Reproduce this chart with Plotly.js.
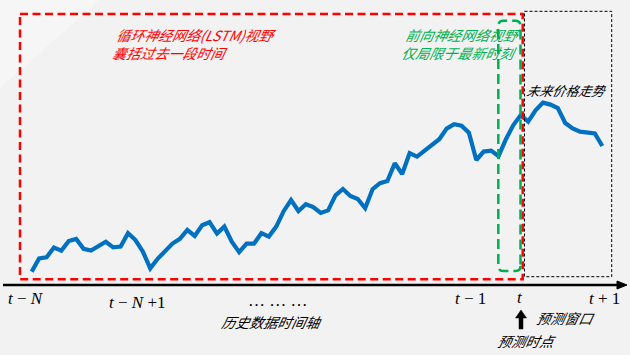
<!DOCTYPE html>
<html>
<head>
<meta charset="utf-8">
<script src="https://cdn.plot.ly/plotly-3.0.1.min.js"></script>
<style>html,body{margin:0;padding:0;background:#F2F2F2;}#chart{width:630px;height:355px;}</style>
</head>
<body>
<div id="chart"></div>
<script>
// Price series (arbitrary units), one value per time step
const prices = [5.7, 12.3, 12.8, 17.7, 16.2, 21.0, 22.0, 17.1, 16.2, 18.2,
  20.6, 17.8, 18.2, 24.9, 21.5, 15.7, 7.3, 12.1, 16.0, 19.7,
  22.1, 26.5, 23.5, 28.9, 30.4, 24.7, 28.2, 20.7, 15.4, 19.7,
  19.7, 24.9, 23.2, 28.2, 35.9, 41.5, 36.0, 39.4, 38.0, 35.0,
  36.3, 43.8, 47.0, 43.5, 42.0, 37.4, 46.9, 49.9, 51.0, 59.9,
  54.5, 64.9, 63.2, 66.0, 69.0, 71.9, 77.2, 79.4, 78.7, 75.2,
  61.5, 65.7, 66.2, 63.4, 71.9, 79.0, 84.0, 80.7, 86.3, 90.2,
  89.2, 87.5, 80.0, 77.3, 75.7, 75.4, 74.8, 68.5];

// Time-axis tick labels
const tickLabels = ['<i>t</i> − <i>N</i>', '<i>t</i> − <i>N</i> +1', '… … …', '<i>t</i> − 1', '<i>t</i>', '<i>t</i> + 1'];

// Text labels
const lstmText = ['循环神经网络(LSTM)视野', '囊括过去一段时间'];
const ffText = ['前向神经网络视野', '仅局限于最新时刻'];
const futureText = '未来价格走势';
const axisText = '历史数据时间轴';
const windowText = '预测窗口';
const pointText = '预测时点';

const W = 630, H = 355;
const px = x => x / W;
const py = y => 1 - y / H;

const trace = {
  y: prices,
  type: 'scatter',
  mode: 'lines',
  line: {color: '#0070C0', width: 4.2},
  hoverinfo: 'skip'
};

const cjk = '"Noto Sans CJK SC", "Noto Sans", sans-serif';
const serif = '"Liberation Serif", "DejaVu Serif", serif';

function ann(text, x, y, opts) {
  return Object.assign({
    text: '<i>' + text + '</i>', xref: 'paper', yref: 'paper', x: px(x), y: py(y),
    showarrow: false, xanchor: 'left', yanchor: 'middle', align: 'left',
    font: {family: cjk, size: 14, color: '#000', style: 'italic'}
  }, opts || {});
}

const tickPos = [[26, 298], [137, 302], [278, 300], [470, 298], [520, 297], [604, 298]];

const annotations = [
  ann(lstmText.join('</i><br><i>'), 113, 43.5, {font: {family: cjk, size: 14, color: '#FF0000', style: 'italic'}}),
  ann(ffText.join('</i><br><i>'), 402, 43.5, {font: {family: cjk, size: 14, color: '#00B050', style: 'italic'}}),
  ann(futureText, 525, 90, {font: {family: cjk, size: 13, color: '#000', style: 'italic'}}),
  ann(axisText, 220, 322),
  ann(windowText, 535, 318),
  ann(pointText, 496, 341)
];
tickLabels.forEach((t, i) => {
  annotations.push({
    text: t, xref: 'paper', yref: 'paper', x: px(tickPos[i][0]), y: py(tickPos[i][1]),
    showarrow: false, xanchor: 'center', yanchor: 'middle',
    font: {family: serif, size: 17, color: '#000'}
  });
});

const shapes = [
  // faint light sheen in the top-left corner
  {type: 'path', xref: 'paper', yref: 'paper', layer: 'below',
   path: `M ${px(0)} ${py(0)} L ${px(0)} ${py(88)} L ${px(100)} ${py(0)} Z`,
   fillcolor: '#F6F6F6', line: {width: 0}},
  // time axis line
  {type: 'line', xref: 'paper', yref: 'paper', x0: px(3), y0: py(285), x1: px(618), y1: py(285),
   line: {color: '#000', width: 2.5}},
  // axis arrow head
  {type: 'path', xref: 'paper', yref: 'paper',
   path: `M ${px(617)} ${py(281)} L ${px(627)} ${py(285)} L ${px(617)} ${py(289)} Z`,
   fillcolor: '#000', line: {color: '#000', width: 1}},
  // LSTM view (red dashed)
  {type: 'rect', xref: 'paper', yref: 'paper', x0: px(20), y0: py(14), x1: px(522.7), y1: py(279.3),
   line: {color: '#FF0000', width: 2.5, dash: '8px,4.5px'}},
  // prediction window (black dashed)
  {type: 'rect', xref: 'paper', yref: 'paper', x0: px(524.5), y0: py(11.3), x1: px(611.7), y1: py(276.7),
   line: {color: '#000', width: 1, dash: '3px,2px'}},
  // feed-forward view (green dashed rounded)
  {type: 'path', xref: 'paper', yref: 'paper',
   path: `M ${px(520.5)} ${py(266)} Q ${px(520.5)} ${py(271)} ${px(515.5)} ${py(271)} L ${px(503.3)} ${py(271)} Q ${px(498.3)} ${py(271)} ${px(498.3)} ${py(266)} L ${px(498.3)} ${py(26)} Q ${px(498.3)} ${py(20.7)} ${px(503.3)} ${py(20.7)} L ${px(515.5)} ${py(20.7)} Q ${px(520.5)} ${py(20.7)} ${px(520.5)} ${py(26)} Z`,
   line: {color: '#00B050', width: 2.5, dash: '10px,5px'}},
  // prediction point arrow
  {type: 'path', xref: 'paper', yref: 'paper',
   path: `M ${px(519)} ${py(329)} L ${px(519)} ${py(318)} L ${px(515.5)} ${py(318)} L ${px(521)} ${py(310)} L ${px(526.5)} ${py(318)} L ${px(523)} ${py(318)} L ${px(523)} ${py(329)} Z`,
   fillcolor: '#000', line: {color: '#000', width: 0.5}}
];

const layout = {
  width: W, height: H,
  margin: {l: 0, r: 0, t: 0, b: 0},
  paper_bgcolor: '#F2F2F2', plot_bgcolor: 'rgba(0,0,0,0)',
  showlegend: false,
  xaxis: {range: [-31.7 / 7.41, (630 - 31.7) / 7.41], visible: false, fixedrange: true},
  yaxis: {range: [-36, 141.5], visible: false, fixedrange: true},
  shapes: shapes,
  annotations: annotations
};

Plotly.newPlot('chart', [trace], layout, {displayModeBar: false, staticPlot: true}).then(gd => {
  // CJK fonts have no italic face: slant the Chinese labels so they read as italic
  gd.querySelectorAll('text.annotation-text').forEach(el => {
    if (/[\u4e00-\u9fff]/.test(el.textContent)) {
      el.style.transformBox = 'fill-box';
      el.style.transformOrigin = 'center';
      el.style.transform = 'skewX(-12deg)';
    }
  });
});
</script>
</body>
</html>
